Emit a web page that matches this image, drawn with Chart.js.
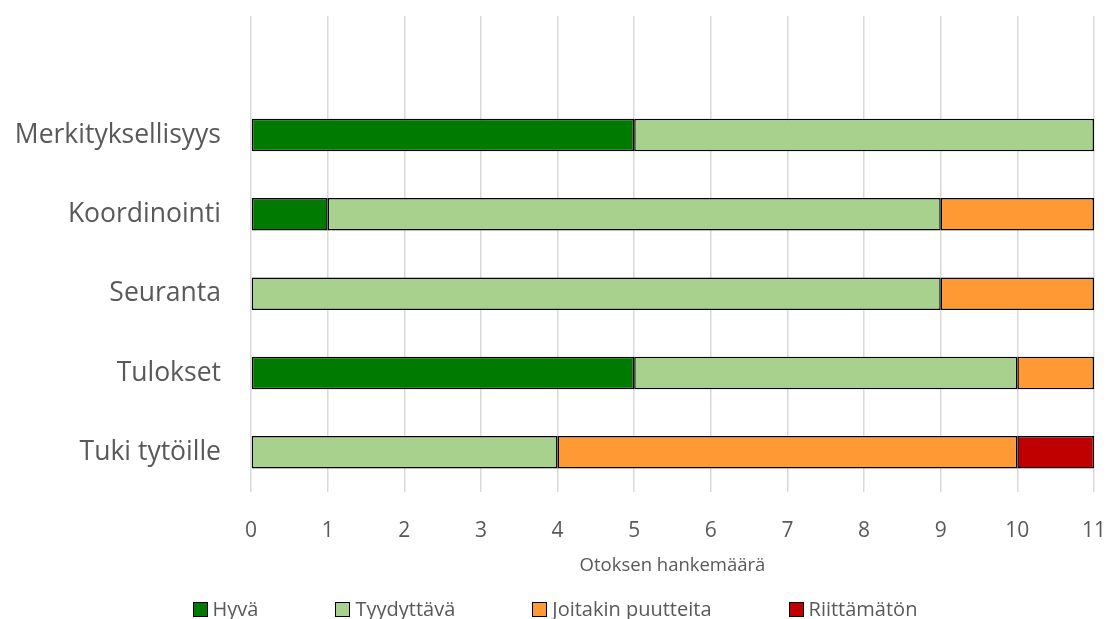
<!DOCTYPE html>
<html lang="fi">
<head>
<meta charset="utf-8">
<title>Otoksen hankemäärä</title>
<script src="https://cdn.jsdelivr.net/npm/chart.js@4/dist/chart.umd.min.js"></script>
<style>
  html, body { margin: 0; padding: 0; background: #fff; }
  #wrap { position: relative; width: 1110px; height: 619px; overflow: hidden; }
  #chart { position: absolute; left: 0; top: 0; }
  #legend {
    position: absolute; left: 0; right: 0; top: 596px;
    display: flex; justify-content: center; gap: 77px;
    font-family: "Open Sans", sans-serif; font-size: 20px; color: #595959;
    line-height: 26px;
  }
  #legend .item { display: flex; align-items: center; }
  #legend .box { width: 13px; height: 13px; border: 1.5px solid #000; margin-right: 5px; }
</style>
</head>
<body>
<div id="wrap">
  <canvas id="chart" width="1110" height="619"></canvas>
  <div id="legend"></div>
</div>
<script>
// Arviointikohteet ja arvosanojen lukumäärät (hankkeita)
const categories = ['Merkityksellisyys', 'Koordinointi', 'Seuranta', 'Tulokset', 'Tuki tytöille'];
const seriesNames = ['Hyvä', 'Tyydyttävä', 'Joitakin puutteita', 'Riittämätön'];
const hyva = [5, 1, 0, 5, 0];
const tyydyttava = [6, 8, 9, 5, 4];
const joitakinPuutteita = [0, 2, 2, 1, 6];
const riittamaton = [0, 0, 0, 0, 1];
const xTicks = [0, 1, 2, 3, 4, 5, 6, 7, 8, 9, 10, 11];
const seriesColors = ['#007A00', '#A9D18E', '#FF9933', '#C00000'];

// An empty first row leaves the free band above the first bar
const labels = [''].concat(categories);
const toRow = arr => [null].concat(arr.map(v => (v === 0 ? null : v)));

const seriesValues = [hyva, tyydyttava, joitakinPuutteita, riittamaton];
const datasets = seriesNames.map((name, i) => ({
  label: name,
  data: toRow(seriesValues[i]),
  backgroundColor: seriesColors[i],
  borderColor: '#000',
  borderWidth: 1.5,
  borderSkipped: false,
  barPercentage: 0.41,
  categoryPercentage: 1
}));

const textColor = '#595959';
const fontFamily = '"Open Sans", sans-serif';

new Chart(document.getElementById('chart'), {
  type: 'bar',
  data: { labels, datasets },
  options: {
    indexAxis: 'y',
    responsive: false,
    animation: false,
    layout: { padding: { top: 16, left: 13, right: 16, bottom: 40 } },
    plugins: {
      legend: { display: false },
      tooltip: { enabled: false }
    },
    scales: {
      x: {
        stacked: true,
        min: xTicks[0],
        max: xTicks[xTicks.length - 1],
        afterBuildTicks: scale => { scale.ticks = xTicks.map(v => ({ value: v })); },
        afterFit: scale => {
          scale.height = 87;
          scale.paddingLeft = 0;
          scale.paddingRight = 0;
        },
        grid: { color: '#D9D9D9', lineWidth: 1.5, drawTicks: false },
        border: { display: false },
        ticks: { color: textColor, font: { family: fontFamily, size: 21 }, padding: 26 },
        title: {
          display: true,
          text: 'Otoksen hankemäärä',
          color: textColor,
          font: { family: fontFamily, size: 18.5 },
          padding: { top: 4, bottom: 2 }
        }
      },
      y: {
        stacked: true,
        afterFit: scale => {
          scale.width = 238;
          scale.paddingTop = 0;
          scale.paddingBottom = 0;
        },
        grid: { display: false, drawTicks: false },
        border: { display: false },
        ticks: { color: textColor, font: { family: fontFamily, size: 26.5 }, padding: 30 }
      }
    }
  }
});

// Legend row under the axis title
const legend = document.getElementById('legend');
seriesNames.forEach((name, i) => {
  const item = document.createElement('div');
  item.className = 'item';
  const box = document.createElement('span');
  box.className = 'box';
  box.style.background = seriesColors[i];
  const text = document.createElement('span');
  text.textContent = name;
  item.appendChild(box);
  item.appendChild(text);
  legend.appendChild(item);
});
</script>
</body>
</html>
